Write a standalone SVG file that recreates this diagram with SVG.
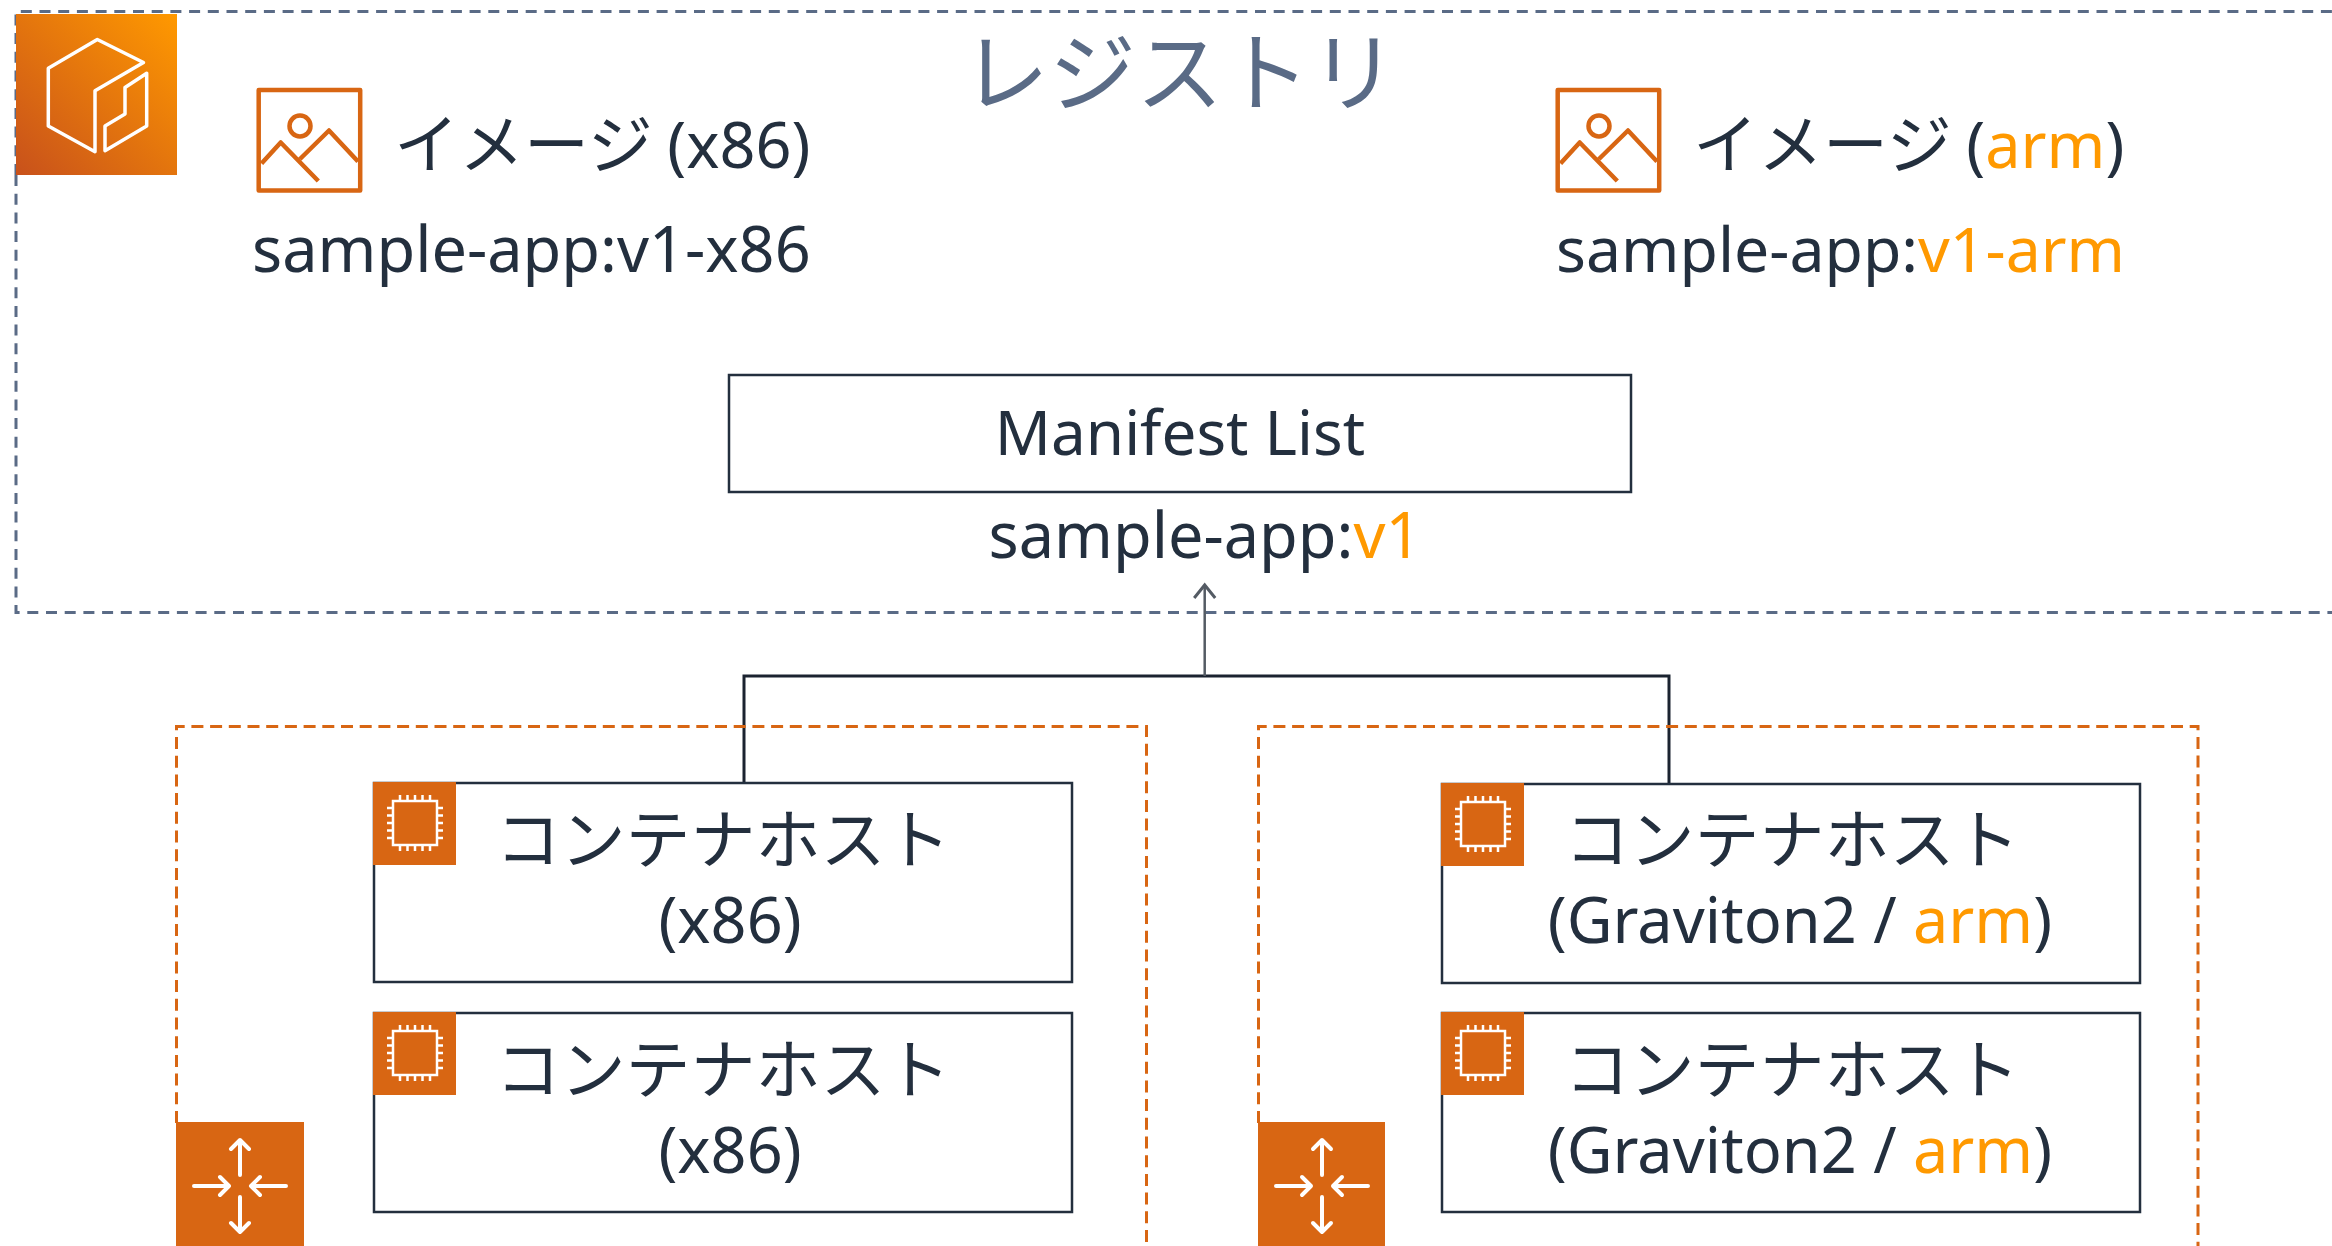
<svg xmlns="http://www.w3.org/2000/svg" xmlns:xlink="http://www.w3.org/1999/xlink" width="2332" height="1246" viewBox="0 0 2332 1246">
<style>
text{font-family:"Noto Sans","Noto Sans CJK JP",sans-serif;fill:#232F3E;font-size:63px}
.a{fill:#FF9900}
.t{fill:#5A6B86;font-size:87px;font-family:"Noto Sans CJK JP",sans-serif;font-weight:400}
.h{font-size:65px;font-family:"Noto Sans CJK JP","Noto Sans",sans-serif;font-weight:400;text-anchor:middle}
.l{font-family:"Noto Sans",sans-serif;font-size:63px}
.m{text-anchor:middle}
.box{fill:#fff;stroke:#232F3E;stroke-width:2.500}
.gg{fill:none;stroke:#5A6B86;stroke-width:3;stroke-dasharray:11 7.700}
.og{fill:none;stroke:#D86613;stroke-width:3;stroke-dasharray:12 6.700}
.w{fill:none;stroke:#fff;stroke-linecap:round;stroke-linejoin:round}
.o{fill:none;stroke:#D86613;stroke-width:4.500;stroke-linejoin:round}
</style>
<defs>
<linearGradient id="gr" x1="0" y1="1" x2="1" y2="0"><stop offset="0" stop-color="#C8511B"/><stop offset="1" stop-color="#FF9900"/></linearGradient>
<marker id="ar" markerUnits="userSpaceOnUse" markerWidth="26" markerHeight="24" refX="16" refY="12" orient="auto"><path d="M3,1.500 L16,12 L3,22.500" fill="none" stroke="#545B64" stroke-width="3"/></marker>
<g id="chip">
<rect width="83" height="83" fill="#D86613"/>
<g fill="none" stroke="#fff" stroke-width="2.500">
<rect x="20" y="19" width="44" height="44"/>
<path d="M27 19v-6M34.500 19v-6M42 19v-6M49.500 19v-6M57 19v-6M27 63v6M34.500 63v6M42 63v6M49.500 63v6M57 63v6M20 26h-6M20 33.500h-6M20 41h-6M20 48.500h-6M20 56h-6M64 26h6M64 33.500h6M64 41h6M64 48.500h6M64 56h6"/>
</g>
</g>
<g id="img">
<rect x="258.700" y="90" width="101.500" height="100.500" class="o"/>
<circle cx="300" cy="126" r="10.500" class="o"/>
<path d="M261.500 163.500L280.700 142.500L318.300 181M300 159L329 130.500L358 161.500" class="o"/>
</g>
<g id="lb" class="w" stroke-width="4">
<path d="M64 53V18M55 27L64 18L73 27M64 75V110M55 101L64 110L73 101M18 64H53M44 55L53 64L44 73M110 64H75M84 55L75 64L84 73"/>
</g>
</defs>
<rect width="2332" height="1246" fill="#fff"/>
<g id="registry">
<path class="gg" d="M16 175V11.500H2340M16 175V612.500H2340"/>
<text class="t" x="962" y="105">レジストリ</text>
<g id="registry-icon">
<rect x="16" y="14" width="161" height="161" fill="url(#gr)"/>
<path class="w" stroke-width="3.500" d="M97.300 39.500L143.500 62.500L95 90.700V151.700L48.300 126V68.300ZM146.700 73.300V126L105 150.700V126L125 114V87.500Z"/>
</g>
</g>
<g id="connectors" fill="none">
<path d="M744 783V676H1669V783" stroke="#1B2330" stroke-width="3"/>
<path d="M1204.700 676V585" stroke="#545B64" stroke-width="2.500" marker-end="url(#ar)"/>
</g>
<g id="image-x86">
<use href="#img"/>
<text x="394" y="168" class="h" style="text-anchor:start">イメージ <tspan class="l">(x86)</tspan></text>
<text x="252" y="272">sample-app:v1-x86</text>
</g>
<g id="image-arm">
<use href="#img" x="1299"/>
<text x="1693" y="168" class="h" style="text-anchor:start">イメージ <tspan class="l">(<tspan class="a">arm</tspan>)</tspan></text>
<text x="1556" y="272" style="font-size:62.500px">sample-app:<tspan class="a">v1-arm</tspan></text>
</g>
<g id="manifest">
<rect class="box" x="729" y="375" width="902" height="117"/>
<text class="m" x="1180" y="454.500" style="font-size:62px">Manifest List</text>
<text class="m" x="1205" y="558">sample-app:<tspan class="a">v1</tspan></text>
</g>
<g id="group-x86">
<path class="og" d="M176.500 1123V726.500H1146.500V1246"/>
<g id="lb-x86"><rect x="176" y="1122" width="128" height="128" fill="#D86613"/><use href="#lb" x="176" y="1122"/></g>
</g>
<g id="group-arm">
<path class="og" d="M1258.500 1123V726.500H2198V1246"/>
<g id="lb-arm"><rect x="1258" y="1122" width="127" height="128" fill="#D86613"/><use href="#lb" x="1258" y="1122"/></g>
</g>
<g id="host-x86-1"><rect class="box" x="374" y="783" width="698" height="199"/><use href="#chip" x="373" y="782"/>
<text class="h" x="723" y="863">コンテナホスト</text><text class="m" x="730" y="943">(x86)</text></g>
<g id="host-x86-2"><rect class="box" x="374" y="1013" width="698" height="199"/><use href="#chip" x="373" y="1012"/>
<text class="h" x="723" y="1093">コンテナホスト</text><text class="m" x="730" y="1173">(x86)</text></g>
<g id="host-arm-1"><rect class="box" x="1442" y="784" width="698" height="199"/><use href="#chip" x="1441" y="783"/>
<text class="h" x="1792" y="863">コンテナホスト</text><text class="m" x="1800" y="943">(Graviton2 / <tspan class="a">arm</tspan>)</text></g>
<g id="host-arm-2"><rect class="box" x="1442" y="1013" width="698" height="199"/><use href="#chip" x="1441" y="1012"/>
<text class="h" x="1792" y="1093">コンテナホスト</text><text class="m" x="1800" y="1173">(Graviton2 / <tspan class="a">arm</tspan>)</text></g>
</svg>
